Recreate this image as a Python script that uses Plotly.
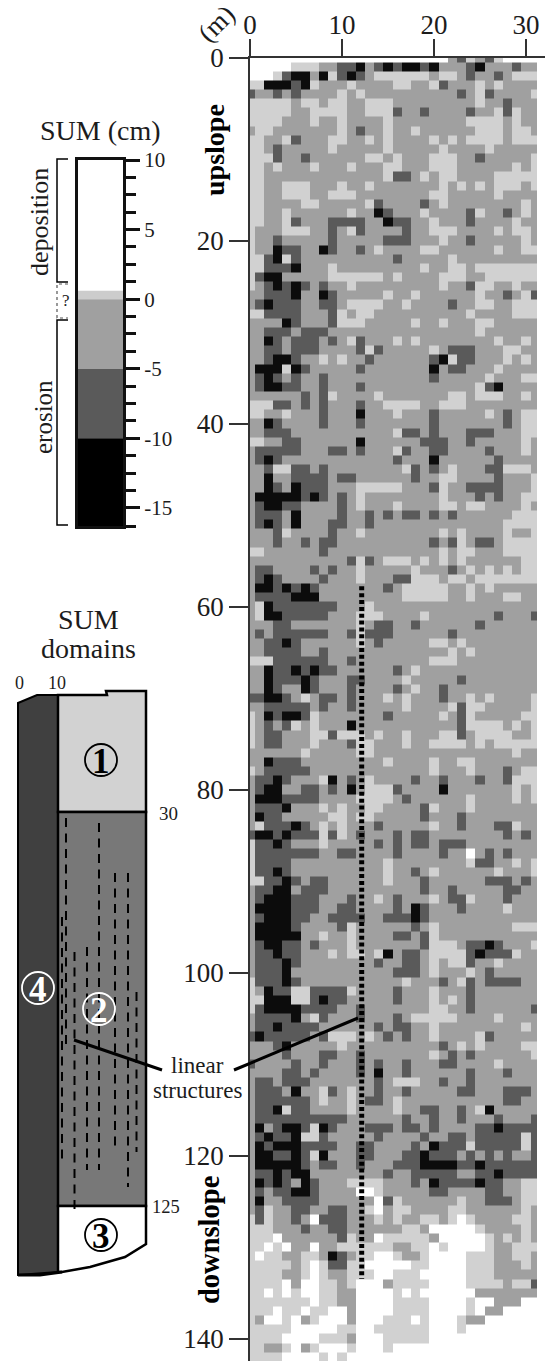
import numpy as np
import plotly.graph_objects as go

W, H = 545, 1361
# SUM class per 1 m cell, rows 0..142 downslope, columns 0..31 across.
# 0 white (> +0.6), 1 light (0..0.6), 2 mid (-5..0), 3 dark (-10..-5), 4 black (< -10)
sum_rows = [
"0000000000000000000000 231231 0000",
"00000 111 22 33 4 2 3 4 3 44 3 4 222 3 4 222 3 22",
"000 1 3 44 2 4 1 3 4 3 2 111111 2 11 2 3 22 3 2 111",
"11 444 3 4 1 222 1 2222 11 22 1 3 222 1 2 1 2222",
"3 22 3 2 3 2222 1 2 1 2222222222 3 2 1 3 2222 1",
"11111 2 11 2 11 22 111 222222222 1 22 3 222",
"11111 22 1111 22 111 3 22 3 2222 3 22 1 3 1 22",
"1111 222 1 22 1 2222 1 22222222 1111 2 1 22",
"2 11 2222222 1 2 3 22 1 22 1 222222 111 2 11 2",
"11 22 1 3 222 11 22 1 2 1 2222 1 2 1 2 1111 2 111",
"11 2 3 22222 1 22222 1 22222 1 2222 1 22222",
"111 3 22 3 222222 11 2 1 222 111 22 3 22222 1",
"11 2 1 222 1 222 1 222 11 222 111 222222 1 2 1",
"11 2222222222222 1 33 2 1 2 11 2222 11111",
"11 22 111 222 1 22 1 2222222 1 2 1 2 1 2 111 2 1",
"11 22 111 22 111 22222222 11 22222 1 2222",
"11 2222 11 22222 1 3 2222 3 2 1 22222222 1 2",
"11 22 1 222222 1 22 4 3 222 1 2222 3 1 22 3 2 1 2",
"11 22 1 3 222 3333 22 4 33 22 1 222 3 2222 1 22",
"1 222 111 22 3 2 1 3 2222 3 22 111 2222 1 2 11 2",
"1 22 3 22222 3 22222 333 222 1 22 3 22222 1 2",
"1 22 4 33 22 4 3 22 3 2 1 2222 11 222222 1 22 11",
"11 3 4 1 3 2222222222 3 22222 1 222222222",
"11 333 4 222 1 22222222 2 1 22 11 2 1111111",
"1 3 44 22222 111111 2 1 2222 111 22 111111",
"1 2 3 4 3 4 3 2 3 22 1 222222222 1 22 3 11 22 1 22",
"2 2 333 4 22 4 3 22222 1 22 1 222222 1 22 3 2 1 3",
"2 3 4 333 22 33 2 1111 22 1 2222 3 22 11 22 111",
"11 3333 222 3 1 2 11 2222222222 1 2222 111",
"2222 4 3 222 3 111 22222 1 22 1 222 11 22222",
"22 333 2 333 2222222222222222 1 222222",
"22 4 3 2 333 2 3 2 1 3 222 1 2 1 22222222 1 22 1 2",
"22 33 2 333 2222 3 1 3 22222 1 2 333 222 11 22",
"22 3 44 3 22 1 2 1 22 3 222222 3 4 1 33 222 1 2 1 2",
"2 444 1 4 3 22222 3 2222222 4 2 33 222 1 2222",
"2 3 4 3 2 3 22 3 22222222222 3 22222 1 222 11",
"2 3 44 33 22 3 222 3 222222222222 1 3 4 2222",
"222222 3 2 3 1 2222 1 2222222 11 2 111 22 1 2",
"111 33 2 3 2 3 222 3 22 1111 22 111 22222222",
"11 22 1 222 3 222 4 222 1 222 3 22222 1 2 3 2 11",
"22 4 3 2222 3 222 3 2222222 3 2222222 3 2 11",
"22 333 22222222222 1 33 2 3 222 333 222 11",
"11 22 33 222222 4 222222 333 22 3 22222 1 2",
"2 33333 222 33 2 3 222 1 3 22 33 2222 3 222 1 2",
"2 3 4 3 222222222222 3 222 4 222222 3 2222",
"22 3 11 33 2 3 22222222 1 3 2 3 2 1 222 33 111 2",
"22 4 22 3333 2 33 222222 3 22 11 2222 3 2221",
"22 4 3 2 4 333 222 11111 222 3 1 22 3333 222 1",
"2 44444 3 4 3 2 3 2 1 22222222 1 222 3 2 3 22 11",
"2 3 44 33 2222 3 2 1 222 1 2222 11 2 11 2222 1 2",
"2 333 2 4 2222 3 22 3 2 3 2 33 2 3 2 3 222222 111",
"2 3 4 3 2 4 222 33 22 3 22222222222222 1111",
"222 3 1 2222 3 22 1 22222222 1 2 1 2222 1 22 1",
"222 3 22 3 2 33 2222222222 3 2 3 1 2 33 2 1111",
"11 222222 3 222222222222 1 2 11 222 1111",
"22222222222 3 1 3 2 111 2 1 2 1 2 1 222222 11",
"2 33 2222 3 2 3 22 1 22222 1 2 2 2 3 2 1 2 1 2 1 2 11",
"2 3 4 3 2222 3 222 1 222 33 111 2 11 2 1111111",
"2 44 3 4 3 4 3 2222222 3 2 11111 22 1 2 1 22222",
"2 3333 444 222222222 11111 22 1 222 11 22",
"2 1 4 3333333 222 1 222222222222222222",
"2 1 44 33333 222 1 11 2222 1 2222222 3 222 3",
"222 33 2222 222 1 2 33 22 3 222222 3 222222",
"2 3 2 333333 22 3 1 333 222222 3 222222222",
"22 33 4 3 222222 1 2 3 22222 11 2 1 22222222",
"22 3333 22 3 2222222222222 1 2 1 2222222",
"111 333333 22 3 22222222 111 222222222",
"22 4 33 4 3 4 33 222222 3 2 1 2222222222222",
"22 4 333 4 3 222 33 2222 1 22222 3 22222222",
"22 4 3 22 4 3 222 3 2222 3 2 1 22 3 2222222222",
"33 44 3 2 1 2 33 2 3 222 1 2 1 222 3 22 1 2 1 2222 1",
"22 33333 2 3 22 3 22222 1 2222 1 3 11 22222 1",
"1 2 4 3 44 3 1 2222222 3 22222 1 2 3 1 22222 11",
"1 2 3 2 3 1 2 1 222 4 22222222222 3 1111 2 1 2 1",
"1 2 33 222 11 3 11 1 2 1 22 1 222 11 3 2 1111 22 1",
"1 2 33 222 1 222 3 11 222 1 22 1111 2 1 2 11111",
"222222 1 22222 11 222222222222222 1 22",
"22 4 333 222222222 1 2222 1 22 11 2222222",
"1 2 33333 2222222222222 1 222 1 222 3 2 11",
"2 33 4 3 222 1 4 2 3 2 1 2222 3 22 3 222 3 22 3 111",
"2 3 44 22 33 2 3 2 4 2 111 3 2222 4 2222222 1 2 1",
"2 444 3333 2222 1111 2 3 222222 1 2222 1 2 1",
"2 333 4 222 1 2 1 22 11 2222 3 1 222 1 2222222",
"2 4 33 22222 11 2 11 22222 3 222 3 22222222",
"2 1 333 4 3 2 1 2 1 222 3 22222 1 22 3 222 33 1 22",
"3 44 3 4 333 1 3 1 2 3 222 3 2 33 22222222 3 2 3 2",
"1 33 4 3 222 1 22222 3 2 3 2 33 2 333 22222222",
"1 3333333 22 33 2222 3 2222 3 22 0 2 3 2 3 222",
"1 3333 2222222222 1 22222222 1 33 22 1 2 1",
"1 33 4 3 2222222222 1 22 3 2 1 222222 1 222 1",
"11 33 4 3 2 33 222222 1 222 3 222222 333 2 3 2",
"2 33 44 2 333 2222222222 3 22 3 22222 33 22",
"2 3 444 333 222 3 22 1 2 3 222 1 2 33 1 222 3 222",
"2 4444 333 22 33 2222 3 2 4 3 222 3 2222 1 222",
"2 3 444 33 22 333 3 22 333 4 3 222222222222",
"2 4444 3 2222 3 1 222222 3 2 1 22222222 111",
"2 44444 22 1 22 1 2222 33 2 3 1 22222222222",
"2 3 44 33 2 3 222 1 2222222 3 111 2 33 4 3 222 1",
"2 33 4 33 222 1 2 11 2 1 4 2 33 2 11 11 3 4 333 1 22",
"2 333 4 3 22222222 3 22 33 2 1 2 11 3 22 1 2222",
"2 333 4 2 2222222222 333 2 1 222 1 2 3 22222",
"1 333 4 3 22222222222 1 222 3 2 1 3 2 3333 22",
"1 2 4 33 11 3333 1 2222 3 222 1 222 3 2222222",
"11 444 11 3 4 33 2 2222 3 222 1 2 1 2 3 2222222",
"1 3 4444 3333 22 3 2222222 11 22 3 222222 3",
"2 3333 4 2 1 3 222 3 222 3 2 11111 2222 1 2222",
"2 33 4 3333 222222 3 2 33 22 1 222 2 22222 1 2",
"3 4 33333 2 3 111 2 1 2 3 2 3 22 1 2222 1 3 22222",
"222 3 4 22222 1 2222222222 3 2 1 2 1 2222 11",
"2222 3 222 33 22 3 2222222 1 2 3 2 3 222222 1",
"3 2222 3 22 3 222 3 2 3 22 3 222 33 2222 1 2222",
"2222 33 2 3 2222 3 2 4 22 3 222222 3 222 3 222",
"2 33 2 333 2222222 3 2 111 22 3 22 3 2222222",
"2 333 2 4 22 1 3 2 1 22 3 22 3 22222 33 222 333 2",
"2 333333 2 1 22 1 2 33 2 1 22222222222 33 22",
"2 33 4 1 33 2222 1 2222 1 22 33 22 3 2 1 4 22222",
"2 3333333333 222222 3 22 3 22 3 222 3 222 3",
"2 4 2 3 44 3 1 4 3 222 333 2 33 2 3 2222 33 4 3333",
"2 3 4 33 4 11 3 222 22 3 2222 3 22 33 2 3333313",
"2 4 3 444 3333 22 33 2222 3 2 4 333 1 33333 1 3",
"2 44 33 4 3 1 4 222 33 222 33 4 333 2 3 2 3 2 3 22 3",
"2 44444 3 2 33 22 3 222 333 4444 33 4 333333",
"2 33 4 3 44 22222222 3 22 33333 22 33 4 3333",
"2 4 3 4 3 2 4 3 222 1 111 222 3 2 4 3333 4 33 22 11",
"2 3 2 33 44 3 2222 00 1 22222 33 2222 33 22 11",
"2 4 22 3333 2222 22 0 3 1 222222 1 22 333 2 11",
"2 3 1 22 33 22 33 22 1 0 2 11 2222 11 222222 1 2",
"1 3 1 22 3 2 0 333 22 2 1 2 1 22 11 2 1 0 1 2222 11 2",
"111 222 3 22 33 2 222 22 11 2 00000 1 2222 1 2",
"111 0 222222 3 1 22 0 11111 2 00000 1 2 1 2 1 2",
"11 0 1 0 22 0 22 11111 1 22 11 0 1 0000 1 22 111",
"1 0 11 22 11 2 4 3 2 11 00 1 22 1 0000 111 22 11 2",
"11111 2 1 0 1 33 11 00000 11 0000 111 222 1 2",
"1111 22 1 0 1 22 111 00 111 0 0000 111 22222",
"1111 0 2 00 11 2 1 000 2 1111 0000 1111 2 11 3",
"11 0 1 0 1 00 11 22 0000 1 0 1 000000 2 222222",
"1111111 0 11 22 0000 1111 0000 1 00 222 00",
"111 0 11 0 11 00 2 0000 1111 0000 1 0 22 0000",
"1 2 00 1 0 2 1 000 2 000 111 0 1 000 1 22 000000",
"11111 000 00 11 00 111111 000 1 00000000",
"1111 0000 111 2 000 11111 000000000000",
"11 22 1 0 2 1 000 1 000 1 0000000000000000",
"1111 0000 1 0 1 000000000000000000000",
]

class_colors = ["#ffffff", "#d1d1d1", "#a0a0a0", "#5a5a5a", "#0c0c0c"]

legend_title = "SUM (cm)"
band_low = [0.6, 0.0, -5.0, -10.0, -16.3]
band_high = [10.0, 0.6, 0.0, -5.0, -10.0]
band_colors = ["#ffffff", "#cccccc", "#a0a0a0", "#5a5a5a", "#000000"]
legend_major = [10, 5, 0, -5, -10, -15]
legend_major_text = ["10", "5", "0", "-5", "-10", "-15"]
legend_minor = [8.75, 7.5, 6.25, 3.75, 2.5, 1.25, -1.25, -2.5, -3.75, -6.25, -7.5, -8.75, -11.25, -12.5, -13.75, -16.3]

x_ticks = [0, 10, 20, 30]
y_ticks = [0, 20, 40, 60, 80, 100, 120, 140]
linear_x = [12.14, 12.14]
linear_y = [57.8, 133.5]

FONT = "Liberation Serif"
INK = "#1c1c1c"

z = np.array([[int(c) for c in r.replace(" ", "").ljust(32, "2")[:32]] for r in sum_rows])
x_edges = np.concatenate([[0], np.arange(0.5, 31, 1.0), [31.2]])
y_edges = np.concatenate([[0], np.arange(0.5, z.shape[0] + 0.5, 1.0)])

def px(x): return x / W
def py(y): return 1 - y / H

scale = [[0.0, class_colors[0]], [0.2, class_colors[0]], [0.2, class_colors[1]], [0.4, class_colors[1]],
         [0.4, class_colors[2]], [0.6, class_colors[2]], [0.6, class_colors[3]], [0.8, class_colors[3]],
         [0.8, class_colors[4]], [1.0, class_colors[4]]]

fig = go.Figure()
fig.add_trace(go.Heatmap(z=z, x=x_edges, y=y_edges, zmin=-0.5, zmax=4.5, colorscale=scale,
                         showscale=False, hoverinfo="skip", xaxis="x", yaxis="y"))
fig.add_trace(go.Scatter(x=linear_x, y=linear_y, mode="lines", hoverinfo="skip", showlegend=False,
                         line=dict(color="#000000", width=5, dash="4px,2.85px"), xaxis="x", yaxis="y"))
for lo, hi, col in zip(band_low, band_high, band_colors):
    fig.add_trace(go.Bar(x=[0.5], y=[hi - lo], base=[lo], width=[1], marker=dict(color=col, line=dict(width=0)),
                         hoverinfo="skip", showlegend=False, xaxis="x2", yaxis="y2"))

shapes = []
annots = []

def poly(pts, fill=None, color="#000000", width=2, dash=None):
    p = "M " + " L ".join(f"{px(a):.5f} {py(b):.5f}" for a, b in pts)
    if fill:
        p += " Z"
    line = dict(color=color, width=width)
    if dash:
        line["dash"] = dash
    shapes.append(dict(type="path", path=p, xref="paper", yref="paper", fillcolor=fill or "rgba(0,0,0,0)",
                       line=line, layer="above"))

def text(x, y, s, size, angle=0, bold=False, color=INK):
    annots.append(dict(x=px(x), y=py(y), xref="paper", yref="paper", text=f"<b>{s}</b>" if bold else s,
                       showarrow=False, textangle=angle, xanchor="center", yanchor="middle",
                       font=dict(family=FONT, size=size, color=color)))

def badge(x, y, s, color):
    r = 16
    shapes.append(dict(type="circle", xref="paper", yref="paper", x0=px(x - r), x1=px(x + r), y0=py(y + r), y1=py(y - r),
                       line=dict(color=color, width=1.8), layer="above"))
    text(x, y + 1, s, 35, bold=True, color=color)

# legend brackets
poly([(68, 159), (57, 159), (57, 282), (68, 282)], width=1.5)
poly([(68, 320), (57, 320), (57, 525), (68, 525)], width=1.5)
poly([(68, 284), (57, 284), (57, 318), (68, 318)], width=1.2, dash="dot", color="#555555")
text(66, 301, "?", 17)
text(100, 130, legend_title, 28)
text(39, 222, "deposition", 26, angle=-90)
text(43, 417, "erosion", 25, angle=-90)

# side labels
text(214, 150, "upslope", 28, angle=-90, bold=True, color="#000000")
text(209, 1240, "downslope", 28.5, angle=-90, bold=True, color="#000000")
text(216, 24, "(m)", 27, angle=-45)

# domain sketch
text(88, 620, "SUM", 28)
text(88, 648, "domains", 28)
poly([(18, 703), (37, 695), (58, 695), (58, 1272), (18, 1275)], fill="#404040", width=2)
poly([(58, 695), (107, 695), (106, 691), (146, 691), (146, 812), (58, 812)], fill="#d2d2d2", width=2.5)
poly([(58, 812), (146, 812), (146, 1206), (58, 1206)], fill="#787878", width=2.5)
poly([(58, 1206), (146, 1206), (146, 1244), (125, 1257), (90, 1267), (62, 1272), (58, 1272)], fill="#ffffff", width=2.5)
poly([(18, 1275), (40, 1275), (62, 1272)], width=3)

dash_cols = [(66, 818, 1045), (62, 917, 1162), (74.5, 952, 1213), (87, 947, 1170), (99, 823, 1170),
             (115, 873, 1152), (128, 873, 1187), (136.5, 992, 1152)]
for xx, y0, y1 in dash_cols:
    poly([(xx, y0), (xx, y1)], width=2, dash="9px,6.5px")

badge(101, 760, "1", "#000000")
badge(99, 1009, "2", "#ffffff")
badge(101, 1235, "3", "#000000")
badge(38, 988, "4", "#ffffff")

text(19, 683, "0", 18)
text(57, 683, "10", 18)
text(168, 813, "30", 19)
text(166, 1207, "125", 18.5)

poly([(74, 1040), (162, 1070)], width=3)
poly([(234, 1070), (358, 1018)], width=3)
text(197, 1065, "linear", 23)
text(197, 1090, "structures", 23)

axis_font = dict(family=FONT, size=27, color=INK)
fig.update_layout(
    width=W, height=H, margin=dict(l=0, r=0, t=0, b=0, autoexpand=False), paper_bgcolor="#ffffff", plot_bgcolor="#ffffff",
    showlegend=False, barmode="overlay", shapes=shapes, annotations=annots,
    xaxis=dict(domain=[px(250), 1], range=[0, (W - 250) / 9.2], side="top", anchor="y", tickvals=x_ticks,
               ticks="outside", ticklen=17, tickwidth=1.6, tickcolor="#333333", showline=True, linecolor="#333333",
               linewidth=1.6, showgrid=False, zeroline=False, tickfont=axis_font, automargin=False, ticklabelstandoff=-6),
    yaxis=dict(domain=[0, py(57.5)], range=[(H - 57.5) / 9.15, 0], anchor="x", tickvals=y_ticks,
               ticks="outside", ticklen=19, tickwidth=1.6, tickcolor="#333333", showline=True, linecolor="#333333",
               linewidth=1.6, showgrid=False, zeroline=False, tickfont=axis_font, automargin=False),
    xaxis2=dict(domain=[px(78), px(123)], range=[0, 1], anchor="y2", showticklabels=False, ticks="",
                showgrid=False, zeroline=False, showline=True, mirror=True, linecolor="#111111", linewidth=3,
                automargin=False),
    yaxis2=dict(domain=[py(526), py(160)], range=[-16.3, 10], anchor="x2", side="right", tickvals=legend_major,
                ticktext=legend_major_text, ticks="outside", ticklen=14, tickwidth=3, tickcolor="#111111",
                minor=dict(tickvals=legend_minor, ticks="outside", ticklen=10, tickwidth=3, tickcolor="#111111"),
                showline=True, mirror=True, linecolor="#111111", linewidth=3, showgrid=False, zeroline=False,
                tickfont=dict(family=FONT, size=21, color=INK), automargin=False),
)

fig.write_html("out.html", config={"displayModeBar": False}, post_script="document.body.style.margin='0';")
